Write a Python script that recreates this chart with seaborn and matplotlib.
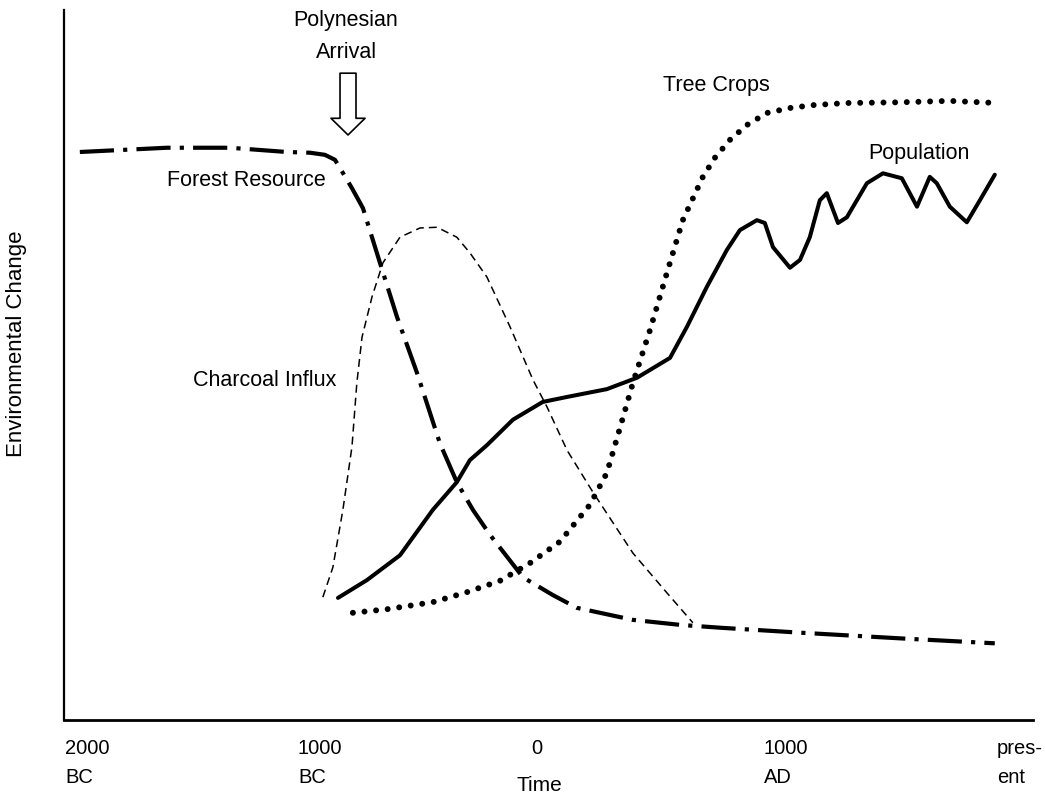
import matplotlib
matplotlib.use("Agg")
import matplotlib.pyplot as plt
import seaborn as sns
import pandas as pd

# ---------------- data ----------------
# time axis in years (negative = BC); "present" plotted at 2000
forest_t = [-1936, -1562, -1292, -1047, -948, -884, -841, -815, -768, -721, -648, -575,
            -489, -391, -318, -249, -176, -34, 94, 197, 438, 640, 811, 1155, 1584, 1991]
forest_v = [80.0, 80.6, 80.6, 80.0, 79.9, 79.6, 78.9, 77.5, 74.9, 72.1, 64.4, 56.8,
            48.9, 39.0, 33.5, 29.6, 26.1, 20.1, 17.6, 15.8, 14.1, 13.4, 13.0, 12.3, 11.5, 10.8]

charcoal_t = [-893, -850, -807, -768, -747, -725, -682, -635, -562, -476, -403, -318,
              -262, -189, -90, 9, 69, 155, 266, 438, 584, 695]
charcoal_v = [17.3, 21.5, 29.6, 38.5, 47.5, 53.9, 59.6, 64.4, 68.0, 69.3, 69.4, 68.0,
              65.8, 62.4, 55.4, 47.9, 44.1, 38.0, 32.1, 23.5, 17.9, 13.7]

population_t = [-828, -704, -562, -421, -318, -262, -189, -77, 51, 155, 326, 455, 597,
                670, 755, 841, 897, 970, 1004, 1039, 1112, 1155, 1197, 1240, 1270, 1318,
                1356, 1442, 1511, 1592, 1657, 1712, 1742, 1798, 1871, 1927, 1991]
population_v = [17.2, 19.7, 23.2, 29.6, 33.5, 36.6, 38.7, 42.3, 44.8, 45.5, 46.6, 48.2, 51.0,
                55.4, 61.0, 66.2, 69.0, 70.4, 70.0, 66.6, 63.7, 64.8, 68.0, 73.2, 74.2, 70.0,
                70.8, 75.6, 77.0, 76.3, 72.3, 76.5, 75.6, 72.3, 70.1, 73.2, 76.8]

tree_t = [-764, -618, -421, -275, -133, -4, 124, 253, 326, 382, 438, 511, 584, 652, 738,
          790, 854, 927, 1013, 1112, 1210, 1356, 1584, 1798, 2000]
tree_v = [15.1, 15.6, 16.6, 18.0, 19.6, 22.1, 25.1, 30.3, 34.8, 41.1, 47.5, 54.9, 63.0, 70.4,
          76.5, 79.2, 81.7, 83.8, 85.5, 86.2, 86.6, 86.9, 87.0, 87.2, 86.9]

tick_years = [-2000, -1000, 0, 1000, 2000]
tick_labels = ["2000\nBC", "1000\nBC", "0", "1000\nAD", "pres-\nent"]

arrival_year = -785

# ---------------- styling ----------------
sns.set_style("white")
plt.rcParams["font.family"] = ["Liberation Sans", "DejaVu Sans"]

fig = plt.figure(figsize=(10.45, 7.97), dpi=100)
ax = fig.add_axes([64 / 1045, 77 / 797, 969 / 1045, 710 / 797])

df_forest = pd.DataFrame({"t": forest_t, "v": forest_v})
df_char = pd.DataFrame({"t": charcoal_t, "v": charcoal_v})
df_pop = pd.DataFrame({"t": population_t, "v": population_v})
df_tree = pd.DataFrame({"t": tree_t, "v": tree_v})

sns.lineplot(data=df_forest, x="t", y="v", ax=ax, color="black", lw=3.0,
             linestyle=(0, (8.2, 2.2, 1.0, 2.2)), dash_capstyle="butt",
             dash_joinstyle="round", estimator=None)
sns.lineplot(data=df_char, x="t", y="v", ax=ax, color="black", lw=1.1,
             linestyle=(0, (5.2, 3.3)), estimator=None)
sns.lineplot(data=df_pop, x="t", y="v", ax=ax, color="black", lw=2.9,
             solid_capstyle="round", solid_joinstyle="round", estimator=None)
sns.lineplot(data=df_tree, x="t", y="v", ax=ax, color="black", lw=4.3,
             linestyle=(0, (0.001, 1.95)), dash_capstyle="round", estimator=None)

ax.set_xlim(-2004, 2155)
ax.set_ylim(0, 100)

# axes / spines
sns.despine(ax=ax)
ax.spines["left"].set_linewidth(1.6)
ax.spines["bottom"].set_linewidth(2.0)
ax.spines["left"].set_color("black")
ax.spines["bottom"].set_color("black")

ax.set_yticks([])
ax.set_xticks(tick_years)
ax.set_xticklabels(tick_labels, fontsize=14.5, ha="left", linespacing=1.68)
ax.tick_params(axis="x", length=0, pad=13.5, colors="black")

ax.set_xlabel("Time", fontsize=15, color="black")
ax.xaxis.set_label_coords((539 - 64) / 969, (720 - 776) / 710)
ax.xaxis.label.set_va("top")

ax.set_ylabel("Environmental Change", fontsize=16, color="black")
ax.yaxis.set_label_coords((17 - 64) / 969, (720 - 344) / 710)
ax.yaxis.label.set_va("center")

# annotations
txt = dict(fontsize=15.5, color="black", va="top")
ax.text(arrival_year - 10, 100.0, "Polynesian", ha="center", **txt)
ax.text(arrival_year - 5, 95.5, "Arrival", ha="center", **txt)
ax.text(-1562, 77.5, "Forest Resource", ha="left", **txt)
ax.text(-1451, 49.3, "Charcoal Influx", ha="left", **txt)
ax.text(566, 90.8, "Tree Crops", ha="left", **txt)
ax.text(1446, 81.3, "Population", ha="left", **txt)

ax.annotate("", xy=(arrival_year, 82.4), xytext=(arrival_year, 91.1),
            arrowprops=dict(arrowstyle="simple,head_length=1.2,head_width=2.45,tail_width=1.15",
                            mutation_scale=10, fc="white", ec="black", lw=1.2,
                            shrinkA=0, shrinkB=0))

fig.savefig("out.png", dpi=100)
